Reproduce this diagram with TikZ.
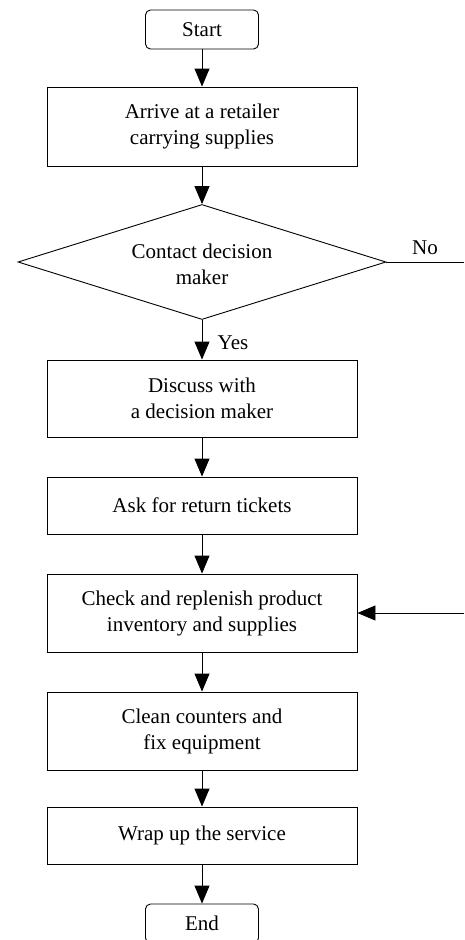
\documentclass[tikz,border=0pt]{standalone}
\usepackage{fontspec}
\setmainfont{Liberation Serif}
\usetikzlibrary{shapes.geometric,arrows.meta}
\begin{document}
\begin{tikzpicture}[x=1pt,y=-1pt,
  every node/.style={font=\fontsize{21}{26}\selectfont, align=center},
  proc/.style={draw, line width=0.9pt, minimum width=310pt, inner sep=0pt},
  term/.style={draw, line width=0.9pt, rounded corners=5pt, minimum width=113pt, minimum height=39pt, inner sep=0pt},
  arr/.style={line width=0.9pt, -{Triangle[width=15pt,length=18pt]}},
  ln/.style={line width=0.9pt}]
\useasboundingbox (0,0) rectangle (464,940);
\node[term] (start) at (202,29.5) {Start};
\node[proc, minimum height=79pt] (arrive) at (202,126.5) {Arrive at a retailer\\carrying supplies};
\node[draw, line width=0.9pt, diamond, minimum width=368pt, minimum height=115pt, inner sep=0pt] (dec) at (202,262) {};
\node (dectext) at (202,264) {Contact decision\\maker};
\node[proc, minimum height=77pt] (discuss) at (202,398.5) {Discuss with\\a decision maker};
\node[proc, minimum height=57pt] (ask) at (202,505.5) {Ask for return tickets};
\node[proc, minimum height=78pt] (check) at (202,613) {Check and replenish product\\inventory and supplies};
\node[proc, minimum height=78pt] (clean) at (202,731) {Clean counters and\\fix equipment};
\node[proc, minimum height=57pt] (wrap) at (202,835.5) {Wrap up the service};
\node[term] (end) at (202,923.5) {End};
\coordinate (noend) at (464,262);
\coordinate (loopin) at (464,613);
\node (no) at (425,248) {No};
\node (yes) at (233,343) {Yes};
\draw[arr] (start) -- (arrive);
\draw[arr] (arrive) -- (dec.north);
\draw[arr] (dec.south) -- (discuss);
\draw[ln] (dec.east) -- (noend);
\draw[arr] (discuss) -- (ask);
\draw[arr] (ask) -- (check);
\draw[arr] (loopin) -- (check.east);
\draw[arr] (check) -- (clean);
\draw[arr] (clean) -- (wrap);
\draw[arr] (wrap) -- (end);
\end{tikzpicture}
\end{document}
